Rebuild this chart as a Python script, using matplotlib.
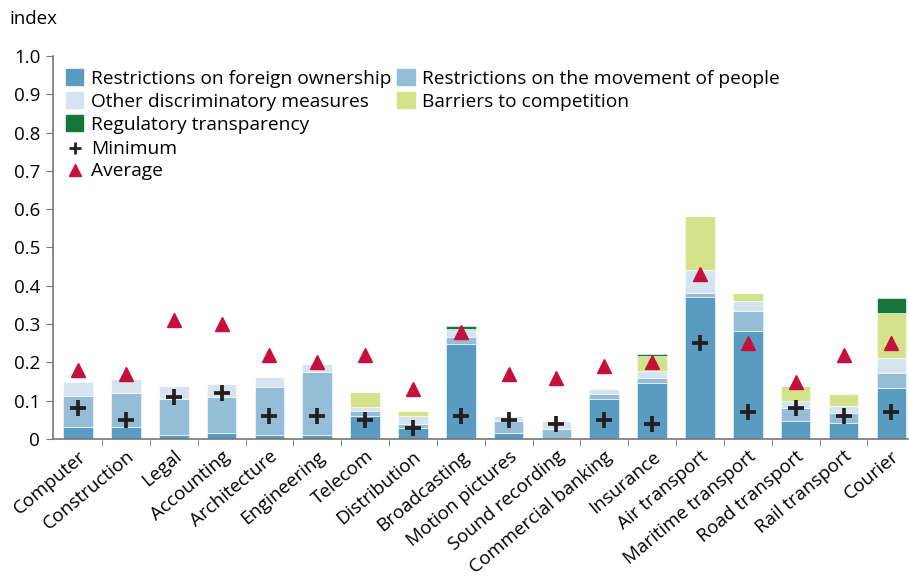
import matplotlib
matplotlib.use("Agg")
import matplotlib.pyplot as plt
import matplotlib.patches as mpatches
from matplotlib.lines import Line2D
import numpy as np

plt.rcParams['font.family'] = ['Open Sans', 'DejaVu Sans']

sectors = ["Computer", "Construction", "Legal", "Accounting", "Architecture",
           "Engineering", "Telecom", "Distribution", "Broadcasting",
           "Motion pictures", "Sound recording", "Commercial banking",
           "Insurance", "Air transport", "Maritime transport",
           "Road transport", "Rail transport", "Courier"]

# stacked components (index points)
foreign_own = [0.032, 0.032, 0.011, 0.015, 0.010, 0.011, 0.059, 0.030, 0.249,
               0.015, 0.000, 0.105, 0.147, 0.372, 0.283, 0.046, 0.043, 0.132]
move_people = [0.081, 0.089, 0.094, 0.095, 0.127, 0.164, 0.015, 0.010, 0.016,
               0.031, 0.026, 0.013, 0.011, 0.009, 0.051, 0.034, 0.025, 0.040]
other_disc = [0.036, 0.035, 0.033, 0.034, 0.024, 0.021, 0.010, 0.020, 0.022,
              0.013, 0.021, 0.012, 0.019, 0.059, 0.026, 0.018, 0.019, 0.040]
barriers = [0.000, 0.000, 0.000, 0.000, 0.000, 0.000, 0.039, 0.012, 0.000,
            0.000, 0.000, 0.000, 0.039, 0.141, 0.022, 0.041, 0.031, 0.116]
reg_transp = [0.000, 0.000, 0.000, 0.000, 0.000, 0.000, 0.000, 0.000, 0.008,
              0.000, 0.000, 0.000, 0.005, 0.000, 0.000, 0.000, 0.000, 0.040]

minimum = [0.08, 0.05, 0.11, 0.12, 0.06, 0.06, 0.05, 0.03, 0.06,
           0.05, 0.04, 0.05, 0.04, 0.25, 0.07, 0.08, 0.06, 0.07]
average = [0.18, 0.17, 0.31, 0.30, 0.22, 0.20, 0.22, 0.13, 0.28,
           0.17, 0.16, 0.19, 0.20, 0.43, 0.25, 0.15, 0.22, 0.25]

components = [
    ("Restrictions on foreign ownership", foreign_own, "#5a9bc1"),
    ("Restrictions on the movement of people", move_people, "#95bdd7"),
    ("Other discriminatory measures", other_disc, "#d5e4f0"),
    ("Barriers to competition", barriers, "#d4e38a"),
    ("Regulatory transparency", reg_transp, "#16763a"),
]

fig = plt.figure(figsize=(9.09, 5.83), dpi=100)
ax = fig.add_axes([0.058, 0.247, 0.941, 0.657])

x = np.arange(len(sectors))
bottom = np.zeros(len(sectors))
handles = {}
for name, vals, col in components:
    vals = np.array(vals)
    ax.bar(x, vals, 0.62, bottom=bottom, color=col, edgecolor='white', linewidth=0.4)
    handles[name] = mpatches.Patch(color=col)
    bottom += vals

ax.plot(x, minimum, linestyle='none', marker='+', color='#231f20', markersize=12,
        markeredgewidth=2.7)
ax.plot(x, average, linestyle='none', marker='^', color='#c4103c', markersize=10)

ax.set_xlim(-0.53, 17.35)
ax.set_ylim(0, 1.0)
ax.set_yticks(np.arange(0, 1.01, 0.1))
ax.set_yticklabels(["0"] + ["%.1f" % v for v in np.arange(0.1, 1.01, 0.1)])
ax.set_xticks(x)
ax.set_xticklabels(sectors, rotation=40, ha='right', rotation_mode='anchor')
ax.set_xticks(np.arange(0.5, 17, 1), minor=True)
ax.tick_params(axis='x', which='major', length=0, pad=6, labelsize=13.5)
ax.tick_params(axis='x', which='minor', length=5, color='#777777')
ax.tick_params(axis='y', length=5, color='#777777', labelsize=13.5, pad=4)
for s in ['top', 'right']:
    ax.spines[s].set_visible(False)
for s in ['left', 'bottom']:
    ax.spines[s].set_color('#777777')
    ax.spines[s].set_linewidth(1.2)

order = [0, 2, 4, 1, 3]
leg1 = ax.legend([handles[components[i][0]] for i in order],
                 [components[i][0] for i in order],
                 ncol=2, loc='upper left', bbox_to_anchor=(0.0, 1.0),
                 frameon=False, fontsize=13.8, handlelength=0.9, handleheight=0.9,
                 handletextpad=0.4, labelspacing=0.22, columnspacing=0.3,
                 borderaxespad=0.3)
ax.add_artist(leg1)
mk = [Line2D([], [], linestyle='none', marker='+', color='#231f20', markersize=9,
             markeredgewidth=2),
      Line2D([], [], linestyle='none', marker='^', color='#c4103c', markersize=8)]
ax.legend(mk, ["Minimum", "Average"], loc='upper left', bbox_to_anchor=(0.0, 0.815),
          frameon=False, fontsize=13.8, handlelength=0.9, handletextpad=0.4,
          labelspacing=0.22, borderaxespad=0.3)

fig.text(0.011, 0.968, "index", fontsize=13.5, va='center')

fig.savefig("out.png", dpi=100)
